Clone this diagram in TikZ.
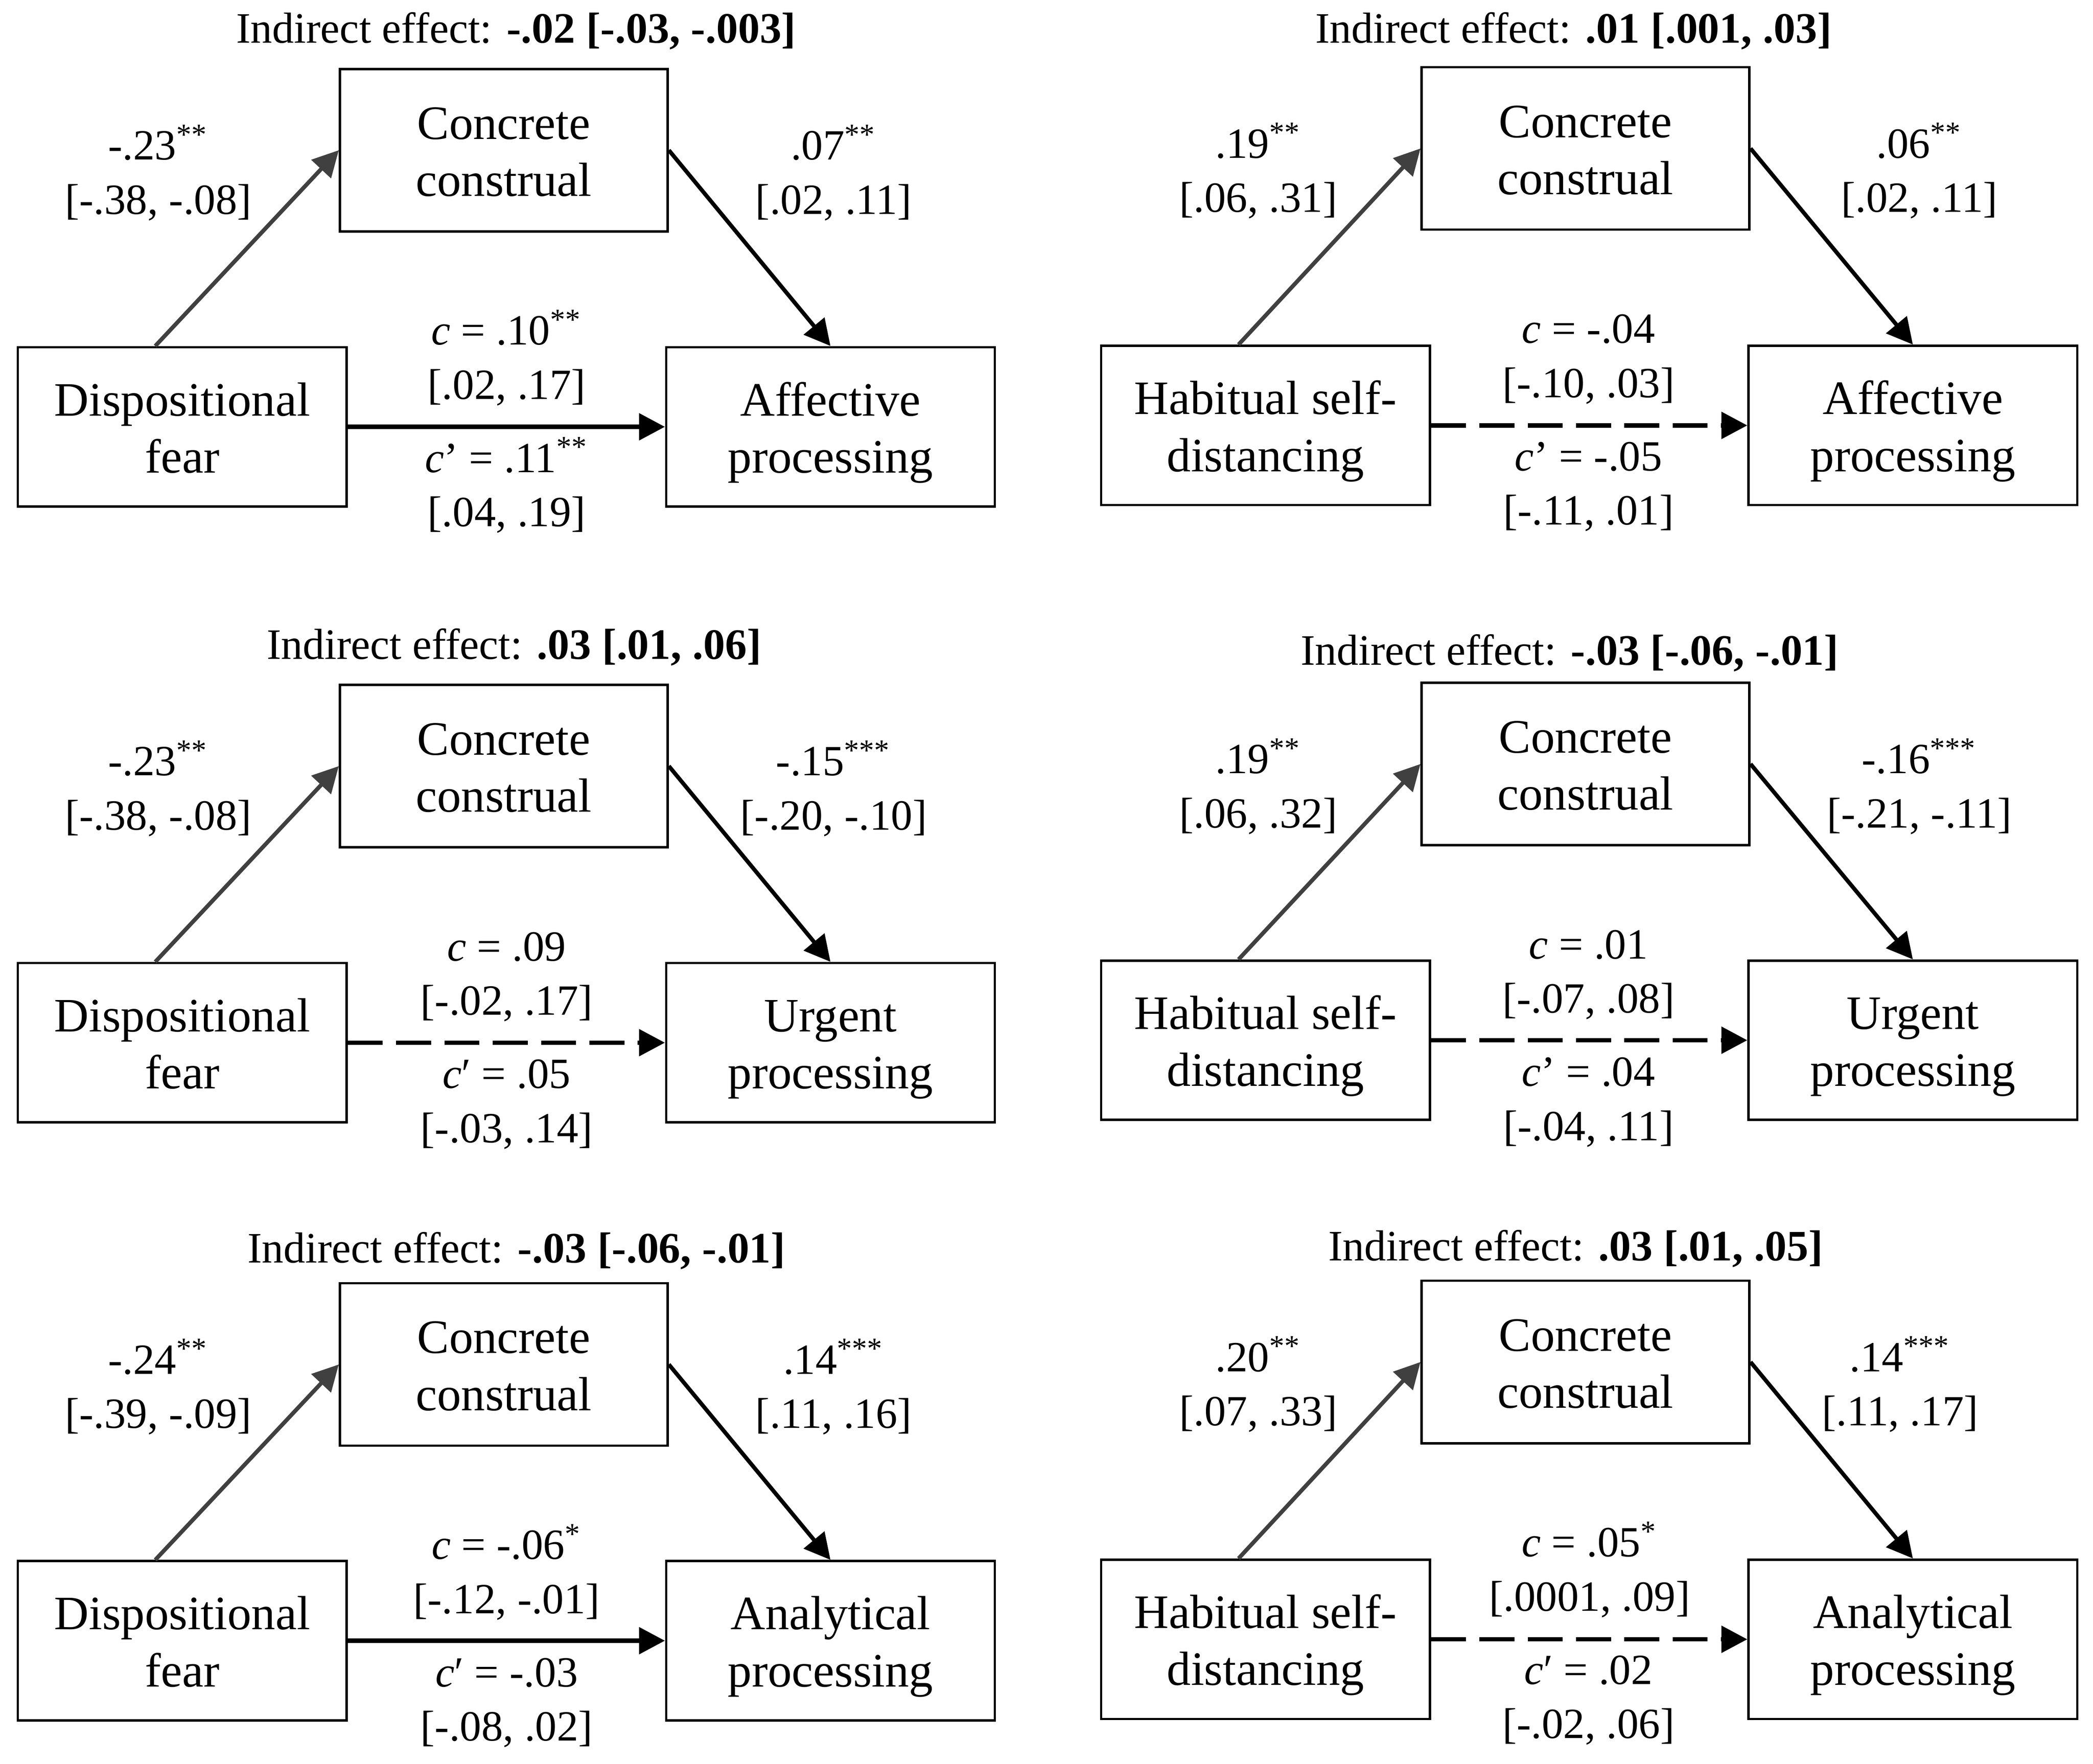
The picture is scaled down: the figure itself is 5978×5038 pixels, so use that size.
\documentclass[tikz,border=0pt]{standalone}
\usepackage{fontspec}
\setmainfont{Liberation Serif}
\usetikzlibrary{arrows.meta}
\definecolor{agray}{RGB}{64,64,64}
\tikzset{
  varbox/.style={draw, line width=0.67pt, inner sep=0pt, align=center,
    font=\fontsize{13.7}{16.3}\selectfont},
  mbox/.style={varbox, minimum width=93.6pt, minimum height=46.4pt},
  vbox/.style={varbox, minimum width=93.9pt, minimum height=45.5pt},
  lab/.style={anchor=base, inner sep=0pt, font=\fontsize{12.3}{15.5}\selectfont},
  ttl/.style={anchor=base, inner sep=0pt, font=\fontsize{12.4}{14}\selectfont},
  arrtip/.style={-{Triangle[length=7.4pt,width=7.5pt]}},
  apath/.style={arrtip, line width=1.15pt, draw=agray},
  bpath/.style={arrtip, line width=1.15pt, draw=black},
  cpath/.style={arrtip, line width=1.27pt, draw=black},
  cdash/.style={cpath, dash pattern=on 10pt off 3.8pt},
}
\newcommand{\tl}{\rule{0pt}{12.9pt}}
\newcommand{\bl}{\vphantom{g}}
\begin{document}
\begin{tikzpicture}[x=0.1pt,y=-0.1pt]
\useasboundingbox (0,0) rectangle (5978,5038);

% ---------------- Panel 1 (top left)
\node[ttl] (p1t) at (1474,122) {Indirect effect: \textbf{-.02 [-.03, -.003]}};
\node[mbox] (p1m) at (1439,429) {\tl Concrete\\construal\bl};
\node[vbox] (p1x) at (520.5,1219) {\tl Dispositional\\fear\bl};
\node[vbox] (p1y) at (2372,1219) {\tl Affective\\processing\bl};
\node[lab] (p1a1) at (452,456) {-.23\textsuperscript{**}};
\node[lab] (p1a2) at (452,611) {[-.38, -.08]};
\node[lab] (p1b1) at (2381,456) {.07\textsuperscript{**}};
\node[lab] (p1b2) at (2381,611) {[.02, .11]};
\node[lab] (p1c1) at (1447,985) {\textit{c} = .10\textsuperscript{**}};
\node[lab] (p1c2) at (1447,1140) {[.02, .17]};
\node[lab] (p1d1) at (1447,1349) {\textit{c}’ = .11\textsuperscript{**}};
\node[lab] (p1d2) at (1447,1504) {[.04, .19]};
\draw[apath] ([xshift=-7.7pt]p1x.north) -- (p1m.west);
\draw[bpath] (p1m.east) -- (p1y.north);
\draw[cpath] (p1x.east) -- (p1y.west);

% ---------------- Panel 2 (top right)
\node[ttl] (p2t) at (4494,122) {Indirect effect: \textbf{.01 [.001, .03]}};
\node[mbox] (p2m) at (4528.5,424) {\tl Concrete\\construal\bl};
\node[vbox] (p2x) at (3614.5,1215) {\tl Habitual self-\\distancing\bl};
\node[vbox] (p2y) at (5463.5,1215) {\tl Affective\\processing\bl};
\node[lab] (p2a1) at (3594,451) {.19\textsuperscript{**}};
\node[lab] (p2a2) at (3594,606) {[.06, .31]};
\node[lab] (p2b1) at (5482,451) {.06\textsuperscript{**}};
\node[lab] (p2b2) at (5482,606) {[.02, .11]};
\node[lab] (p2c1) at (4537,980) {\textit{c} = -.04};
\node[lab] (p2c2) at (4537,1135) {[-.10, .03]};
\node[lab] (p2d1) at (4537,1344) {\textit{c}’ = -.05};
\node[lab] (p2d2) at (4537,1499) {[-.11, .01]};
\draw[apath] ([xshift=-7.7pt]p2x.north) -- (p2m.west);
\draw[bpath] (p2m.east) -- (p2y.north);
\draw[cdash] (p2x.east) -- (p2y.west);

% ---------------- Panel 3 (middle left)
\node[ttl] (p3t) at (1468,1882) {Indirect effect: \textbf{.03 [.01, .06]}};
\node[mbox] (p3m) at (1439,2188) {\tl Concrete\\construal\bl};
\node[vbox] (p3x) at (520.5,2978) {\tl Dispositional\\fear\bl};
\node[vbox] (p3y) at (2372,2978) {\tl Urgent\\processing\bl};
\node[lab] (p3a1) at (452,2215) {-.23\textsuperscript{**}};
\node[lab] (p3a2) at (452,2370) {[-.38, -.08]};
\node[lab] (p3b1) at (2381,2215) {-.15\textsuperscript{***}};
\node[lab] (p3b2) at (2381,2370) {[-.20, -.10]};
\node[lab] (p3c1) at (1447,2744) {\textit{c} = .09};
\node[lab] (p3c2) at (1447,2899) {[-.02, .17]};
\node[lab] (p3d1) at (1447,3108) {\textit{c}′ = .05};
\node[lab] (p3d2) at (1447,3263) {[-.03, .14]};
\draw[apath] ([xshift=-7.7pt]p3x.north) -- (p3m.west);
\draw[bpath] (p3m.east) -- (p3y.north);
\draw[cdash] (p3x.east) -- (p3y.west);

% ---------------- Panel 4 (middle right)
\node[ttl] (p4t) at (4483,1899) {Indirect effect: \textbf{-.03 [-.06, -.01]}};
\node[mbox] (p4m) at (4528.5,2182) {\tl Concrete\\construal\bl};
\node[vbox] (p4x) at (3614.5,2971) {\tl Habitual self-\\distancing\bl};
\node[vbox] (p4y) at (5463.5,2971) {\tl Urgent\\processing\bl};
\node[lab] (p4a1) at (3594,2209) {.19\textsuperscript{**}};
\node[lab] (p4a2) at (3594,2364) {[.06, .32]};
\node[lab] (p4b1) at (5482,2209) {-.16\textsuperscript{***}};
\node[lab] (p4b2) at (5482,2364) {[-.21, -.11]};
\node[lab] (p4c1) at (4537,2738) {\textit{c} = .01};
\node[lab] (p4c2) at (4537,2893) {[-.07, .08]};
\node[lab] (p4d1) at (4537,3102) {\textit{c}’ = .04};
\node[lab] (p4d2) at (4537,3257) {[-.04, .11]};
\draw[apath] ([xshift=-7.7pt]p4x.north) -- (p4m.west);
\draw[bpath] (p4m.east) -- (p4y.north);
\draw[cdash] (p4x.east) -- (p4y.west);

% ---------------- Panel 5 (bottom left)
\node[ttl] (p5t) at (1475,3606) {Indirect effect: \textbf{-.03 [-.06, -.01]}};
\node[mbox] (p5m) at (1439,3897) {\tl Concrete\\construal\bl};
\node[vbox] (p5x) at (520.5,4686) {\tl Dispositional\\fear\bl};
\node[vbox] (p5y) at (2372,4686) {\tl Analytical\\processing\bl};
\node[lab] (p5a1) at (452,3924) {-.24\textsuperscript{**}};
\node[lab] (p5a2) at (452,4079) {[-.39, -.09]};
\node[lab] (p5b1) at (2381,3924) {.14\textsuperscript{***}};
\node[lab] (p5b2) at (2381,4079) {[.11, .16]};
\node[lab] (p5c1) at (1447,4453) {\textit{c} = -.06\textsuperscript{*}};
\node[lab] (p5c2) at (1447,4608) {[-.12, -.01]};
\node[lab] (p5d1) at (1447,4817) {\textit{c}′ = -.03};
\node[lab] (p5d2) at (1447,4972) {[-.08, .02]};
\draw[apath] ([xshift=-7.7pt]p5x.north) -- (p5m.west);
\draw[bpath] (p5m.east) -- (p5y.north);
\draw[cpath] (p5x.east) -- (p5y.west);

% ---------------- Panel 6 (bottom right)
\node[ttl] (p6t) at (4500,3601) {Indirect effect: \textbf{.03 [.01, .05]}};
\node[mbox] (p6m) at (4528.5,3890) {\tl Concrete\\construal\bl};
\node[vbox] (p6x) at (3614.5,4682) {\tl Habitual self-\\distancing\bl};
\node[vbox] (p6y) at (5463.5,4682) {\tl Analytical\\processing\bl};
\node[lab] (p6a1) at (3594,3917) {.20\textsuperscript{**}};
\node[lab] (p6a2) at (3594,4072) {[.07, .33]};
\node[lab] (p6b1) at (5427,3917) {.14\textsuperscript{***}};
\node[lab] (p6b2) at (5427,4072) {[.11, .17]};
\node[lab] (p6c1) at (4540,4446) {\textit{c} = .05\textsuperscript{*}};
\node[lab] (p6c2) at (4540,4601) {[.0001, .09]};
\node[lab] (p6d1) at (4537,4810) {\textit{c}′ = .02};
\node[lab] (p6d2) at (4537,4965) {[-.02, .06]};
\draw[apath] ([xshift=-7.7pt]p6x.north) -- (p6m.west);
\draw[bpath] (p6m.east) -- (p6y.north);
\draw[cdash] (p6x.east) -- (p6y.west);
\end{tikzpicture}
\end{document}
